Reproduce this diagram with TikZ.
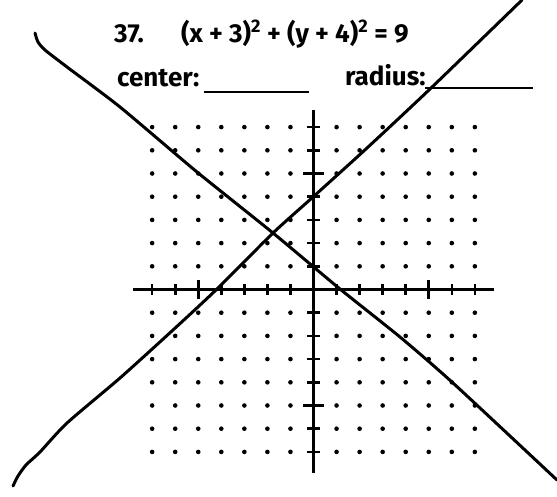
\documentclass[tikz,border=0pt]{standalone}
\usepackage{fontspec}
\setmainfont{Fira Sans}
\usetikzlibrary{calc}

\begin{document}
\begin{tikzpicture}[x=1pt, y=-1pt,
    label/.style={anchor=base west, inner sep=0pt, font=\bfseries\fontsize{26}{26}\selectfont},
    blank/.style={line width=2pt},
    gdot/.style={fill=black, draw=none},
    axis/.style={line width=3pt},
    tick/.style={line width=2.6pt},
    pen/.style={line width=3pt, line cap=round, line join=round}]
    \useasboundingbox (0,0) rectangle (557,496);
    % header text
    \node[label] (num) at (114,42) {37.};
    \node[label] (eqn) at (181,42) {(x + 3)\textsuperscript{2} + (y + 4)\textsuperscript{2} = 9};
    \node[label] (center) at (117,86) {center:};
    \node[label] (radius) at (345,85) {radius:};
    \draw[blank] (204,92) -- (309,92);
    \draw[blank] (425,88) -- (533,88);
    % dot grid
    \coordinate (O) at (313.5,289.5);
    \foreach \i in {-7,...,7}
        \foreach \j in {-7,...,7} {
            \ifnum\i=0 \else \ifnum\j=0 \else
                \fill[gdot] (313.5+\i*23.05, 289.5+\j*23.2) circle (2.3);
            \fi\fi
        }
    % axes
    \coordinate (xl) at (133,289.5);
    \coordinate (xr) at (494,289.5);
    \coordinate (yt) at (313.5,110);
    \coordinate (yb) at (313.5,473);
    \draw[axis] (xl) -- (xr);
    \draw[axis] (yt) -- (yb);
    \foreach \i in {-7,...,-1,1,2,...,7}
        \draw[tick] (313.5+\i*23.05, 284) -- ++(0,11);
    \foreach \i in {-5,5}
        \draw[tick] (313.5+\i*23.05, 280) -- ++(0,19);
    \foreach \j in {-7,...,-1,1,2,...,7}
        \draw[tick] (307, 289.5+\j*23.2) -- ++(13,0);
    \foreach \j in {-5,5}
        \draw[tick] (303, 289.5+\j*23.2) -- ++(21,0);
    % the two drawn lines
    \draw[pen] plot[smooth, tension=0.4] coordinates {(35,33) (38,42) (45,50) (67,67) (120,107) (197,172) (273,233) (340,289) (400,337) (453,383) (557,480)};
    \draw[pen] plot[smooth, tension=0.4] coordinates {(13,486) (18,476) (26,465) (40,452) (67,423) (120,378) (173,330) (217,289) (273,233) (313,197) (367,148) (430,89) (522,0)};
\end{tikzpicture}
\end{document}
